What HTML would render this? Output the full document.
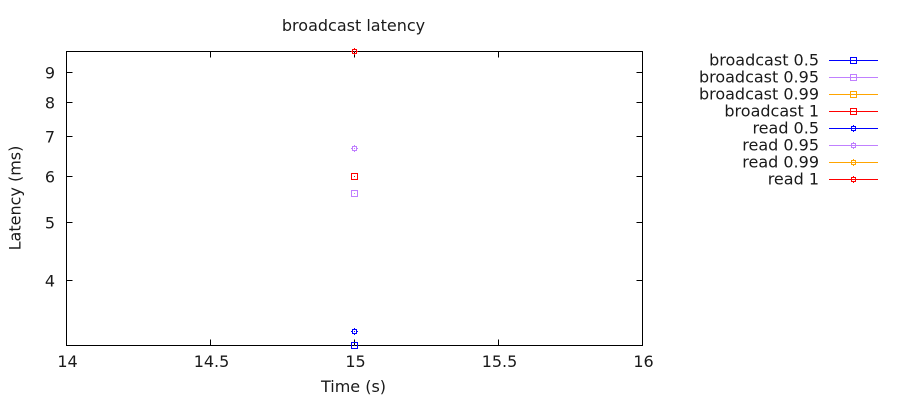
<!DOCTYPE html>
<html>
<head>
<meta charset="utf-8">
<title>broadcast latency</title>
<style>
html,body{margin:0;padding:0;background:#fff;}
svg{display:block;}
text{font-family:"DejaVu Sans","Liberation Sans",sans-serif;font-size:16px;fill:#1a1a1a;}
</style>
</head>
<body>
<svg id="chart" width="900" height="400" viewBox="0 0 900 400" xmlns="http://www.w3.org/2000/svg">
  <rect width="900" height="400" fill="#ffffff"/>
  <text x="353.5" y="31" text-anchor="middle">broadcast latency</text>
  <text x="353.5" y="392" text-anchor="middle">Time (s)</text>
  <text x="20.5" y="198" text-anchor="middle" transform="rotate(-90 20.5 198)">Latency (ms)</text>
  <g id="axes"></g>
  <g id="marks"></g>
  <g id="legend"></g>
</svg>
<script>
var xTicks = [14, 14.5, 15, 15.5, 16];
var xTickLabels = ['14', '14.5', '15', '15.5', '16'];
var yTicks = [4, 5, 6, 7, 8, 9];
var yTickLabels = ['4', '5', '6', '7', '8', '9'];
var seriesNames = ['broadcast 0.5', 'broadcast 0.95', 'broadcast 0.99', 'broadcast 1', 'read 0.5', 'read 0.95', 'read 0.99', 'read 1'];
var seriesKinds = ['square', 'square', 'square', 'square', 'small', 'small', 'small', 'small'];
var seriesColors = ['#0000ff', '#c080ff', '#ffa500', '#ff0000', '#0000ff', '#c080ff', '#ffa500', '#ff0000'];
var seriesTimes = [15, 15, 15, 15, 15, 15, 15, 15];
var seriesValues = [3.1, 5.6, 6, 6, 3.27, 6.68, 9.75, 9.75];

var NS = 'http://www.w3.org/2000/svg';
var plotLeft = 66.5, plotRight = 642.5, plotTop = 51.5, plotBottom = 345.5;
var xMin = 14, xMax = 16, yMin = 3.1, yMax = 9.75;

function xScale(v) {
  return Math.round(plotLeft + (v - xMin) / (xMax - xMin) * (plotRight - plotLeft) - 0.5) + 0.5;
}
function yScale(v) {
  var t = (Math.log(v) - Math.log(yMin)) / (Math.log(yMax) - Math.log(yMin));
  return Math.round(plotBottom - t * (plotBottom - plotTop) - 0.5) + 0.5;
}
function make(tag, attrs, parent) {
  var el = document.createElementNS(NS, tag);
  for (var k in attrs) el.setAttribute(k, attrs[k]);
  parent.appendChild(el);
  return el;
}
function drawMarker(parent, kind, color, cx, cy, showDot) {
  var g = make('g', {fill: 'none', stroke: color, 'stroke-width': 1}, parent);
  if (kind === 'square') {
    make('rect', {x: cx - 3, y: cy - 3, width: 6, height: 6}, g);
    if (showDot) make('rect', {x: cx - 0.5, y: cy - 0.5, width: 1, height: 1, fill: color, stroke: 'none'}, g);
  } else {
    make('rect', {x: cx - 2, y: cy - 2, width: 4, height: 4}, g);
    make('line', {x1: cx, y1: cy - 3.5, x2: cx, y2: cy - 2}, g);
    make('line', {x1: cx, y1: cy + 2, x2: cx, y2: cy + 3.5}, g);
    make('line', {x1: cx - 3.5, y1: cy, x2: cx - 2, y2: cy}, g);
    make('line', {x1: cx + 2, y1: cy, x2: cx + 3.5, y2: cy}, g);
    if (showDot) make('rect', {x: cx - 0.5, y: cy - 0.5, width: 1, height: 1, fill: color, stroke: 'none'}, g);
  }
  return g;
}

var axes = document.getElementById('axes');
var marks = document.getElementById('marks');
var legend = document.getElementById('legend');

xTicks.forEach(function (v, i) {
  var x = xScale(v);
  if (i > 0 && i < xTicks.length - 1) {
    var tb = make('line', {x1: x, y1: plotBottom, x2: x, y2: plotBottom - 6, stroke: '#000', 'stroke-width': 1}, axes);
    
    
    var tt = make('line', {x1: x, y1: plotTop, x2: x, y2: plotTop + 6, stroke: '#000', 'stroke-width': 1}, axes);
    
    
  }
  var lab = make('text', {x: x + 1, y: 367, 'text-anchor': 'middle'}, axes);
  lab.textContent = xTickLabels[i];
  
  
});

yTicks.forEach(function (v, i) {
  var y = yScale(v);
  var tl = make('line', {x1: plotLeft, y1: y, x2: plotLeft + 6, y2: y, stroke: '#000', 'stroke-width': 1}, axes);
  
  
  var tr = make('line', {x1: plotRight, y1: y, x2: plotRight - 6, y2: y, stroke: '#000', 'stroke-width': 1}, axes);
  
  
  var lab = make('text', {x: 55, y: y + 6, 'text-anchor': 'end'}, axes);
  lab.textContent = yTickLabels[i];
  
  
});

var frame = make('rect', {x: plotLeft, y: plotTop, width: plotRight - plotLeft, height: plotBottom - plotTop, fill: 'none', stroke: '#000', 'stroke-width': 1}, axes);



seriesNames.forEach(function (name, i) {
  var pt = drawMarker(marks, seriesKinds[i], seriesColors[i], xScale(seriesTimes[i]), yScale(seriesValues[i]), true);
  
  

  var rowY = 60.5 + i * 17;
  var lab = make('text', {x: 819, y: rowY + 5, 'text-anchor': 'end'}, legend);
  lab.textContent = name;
  
  
  var ln = make('line', {x1: 829, y1: rowY, x2: 878, y2: rowY, stroke: seriesColors[i], 'stroke-width': 1}, legend);
  
  
  var mk = drawMarker(legend, seriesKinds[i], seriesColors[i], 853.5, rowY, false);
  
  
});
</script>
</body>
</html>
